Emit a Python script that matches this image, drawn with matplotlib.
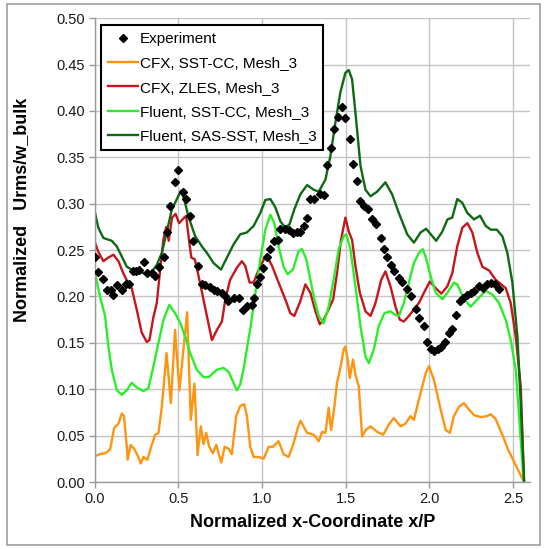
import matplotlib
matplotlib.use("Agg")
import matplotlib.pyplot as plt
from matplotlib.patches import Rectangle

plt.rcParams['font.family'] = ['Liberation Sans', 'DejaVu Sans']

# Experimental data (diamond markers)
exp_x = [0.000, 0.023, 0.049, 0.073, 0.097, 0.113, 0.137, 0.162, 0.188, 0.208,
         0.228, 0.248, 0.268, 0.296, 0.316, 0.342, 0.362, 0.388, 0.412, 0.432,
         0.452, 0.481, 0.501, 0.527, 0.547, 0.571, 0.591, 0.615, 0.641, 0.661,
         0.687, 0.711, 0.734, 0.761, 0.781, 0.800, 0.830, 0.860, 0.886, 0.910,
         0.940, 0.954, 0.970, 0.986, 1.006, 1.030, 1.050, 1.074, 1.093, 1.110,
         1.139, 1.159, 1.185, 1.209, 1.229, 1.253, 1.269, 1.289, 1.313, 1.345,
         1.368, 1.389, 1.413, 1.428, 1.452, 1.478, 1.498, 1.524, 1.544, 1.568,
         1.588, 1.612, 1.632, 1.658, 1.678, 1.708, 1.727, 1.748, 1.771, 1.791,
         1.817, 1.837, 1.867, 1.887, 1.917, 1.937, 1.967, 1.983, 2.007, 2.030,
         2.050, 2.071, 2.090, 2.116, 2.136, 2.156, 2.182, 2.202, 2.226, 2.246,
         2.266, 2.296, 2.322, 2.342, 2.366, 2.390, 2.415]
exp_y = [0.243, 0.226, 0.219, 0.207, 0.207, 0.202, 0.212, 0.207, 0.213, 0.213,
         0.227, 0.227, 0.229, 0.237, 0.225, 0.225, 0.222, 0.232, 0.243, 0.270,
         0.298, 0.323, 0.336, 0.313, 0.305, 0.287, 0.260, 0.233, 0.213, 0.212,
         0.210, 0.207, 0.206, 0.204, 0.201, 0.195, 0.198, 0.198, 0.185, 0.190,
         0.191, 0.198, 0.213, 0.221, 0.231, 0.243, 0.251, 0.260, 0.261, 0.273,
         0.273, 0.272, 0.268, 0.269, 0.270, 0.276, 0.285, 0.305, 0.305, 0.310,
         0.309, 0.342, 0.360, 0.381, 0.393, 0.404, 0.392, 0.370, 0.343, 0.324,
         0.303, 0.297, 0.294, 0.283, 0.278, 0.263, 0.251, 0.243, 0.234, 0.227,
         0.220, 0.216, 0.208, 0.200, 0.186, 0.177, 0.168, 0.151, 0.143, 0.141,
         0.143, 0.146, 0.151, 0.161, 0.165, 0.180, 0.195, 0.198, 0.202, 0.204,
         0.206, 0.211, 0.209, 0.213, 0.214, 0.213, 0.208]

# CFX, SST-CC, Mesh_3
cfx_sst_x = [0.003, 0.033, 0.063, 0.093, 0.117, 0.143, 0.163, 0.176, 0.193, 0.198,
             0.216, 0.236, 0.262, 0.276, 0.292, 0.316, 0.342, 0.362, 0.382, 0.402,
             0.416, 0.430, 0.456, 0.481, 0.507, 0.553, 0.575, 0.597, 0.615, 0.635,
             0.651, 0.667, 0.685, 0.707, 0.727, 0.757, 0.777, 0.800, 0.820, 0.846,
             0.870, 0.894, 0.910, 0.930, 0.950, 0.980, 1.010, 1.040, 1.066, 1.099,
             1.129, 1.159, 1.189, 1.213, 1.230, 1.269, 1.309, 1.339, 1.359, 1.379,
             1.398, 1.413, 1.432, 1.448, 1.468, 1.488, 1.498, 1.512, 1.524, 1.544,
             1.558, 1.578, 1.598, 1.618, 1.648, 1.688, 1.724, 1.757, 1.787, 1.827,
             1.857, 1.887, 1.907, 1.937, 1.957, 1.977, 1.997, 2.027, 2.067, 2.097,
             2.122, 2.146, 2.176, 2.206, 2.236, 2.266, 2.306, 2.342, 2.366, 2.395,
             2.435, 2.469, 2.505, 2.529, 2.565]
cfx_sst_y = [0.028, 0.030, 0.031, 0.035, 0.058, 0.063, 0.074, 0.071, 0.038, 0.024,
             0.040, 0.036, 0.027, 0.020, 0.027, 0.024, 0.040, 0.051, 0.053, 0.081,
             0.110, 0.139, 0.085, 0.164, 0.099, 0.183, 0.067, 0.106, 0.029, 0.060,
             0.041, 0.053, 0.038, 0.031, 0.040, 0.021, 0.038, 0.036, 0.030, 0.071,
             0.082, 0.084, 0.071, 0.038, 0.027, 0.027, 0.025, 0.038, 0.038, 0.044,
             0.030, 0.027, 0.042, 0.058, 0.066, 0.053, 0.051, 0.044, 0.054, 0.053,
             0.080, 0.056, 0.081, 0.107, 0.123, 0.143, 0.146, 0.132, 0.112, 0.132,
             0.116, 0.103, 0.049, 0.056, 0.060, 0.054, 0.051, 0.062, 0.069, 0.060,
             0.063, 0.071, 0.067, 0.089, 0.103, 0.117, 0.125, 0.110, 0.078, 0.056,
             0.053, 0.071, 0.081, 0.085, 0.078, 0.072, 0.070, 0.071, 0.073, 0.068,
             0.051, 0.035, 0.022, 0.013, 0.000]

# CFX, ZLES, Mesh_3
cfx_zles_x = [0.003, 0.023, 0.053, 0.083, 0.113, 0.143, 0.172, 0.202, 0.222, 0.252,
              0.282, 0.312, 0.328, 0.352, 0.372, 0.392, 0.412, 0.428, 0.443, 0.463,
              0.484, 0.505, 0.526, 0.547, 0.567, 0.578, 0.599, 0.620, 0.640, 0.671,
              0.701, 0.731, 0.761, 0.781, 0.810, 0.850, 0.880, 0.900, 0.926, 0.950,
              0.980, 1.026, 1.060, 1.099, 1.139, 1.169, 1.193, 1.229, 1.259, 1.289,
              1.319, 1.345, 1.368, 1.398, 1.425, 1.448, 1.472, 1.498, 1.518, 1.538,
              1.558, 1.584, 1.618, 1.648, 1.678, 1.712, 1.737, 1.767, 1.797, 1.823,
              1.847, 1.877, 1.907, 1.937, 1.967, 2.002, 2.037, 2.071, 2.107, 2.136,
              2.166, 2.196, 2.226, 2.256, 2.286, 2.316, 2.356, 2.395, 2.455, 2.485,
              2.515, 2.545, 2.565]
cfx_zles_y = [0.258, 0.248, 0.238, 0.242, 0.245, 0.238, 0.225, 0.214, 0.209, 0.186,
              0.161, 0.151, 0.153, 0.178, 0.193, 0.229, 0.262, 0.275, 0.260, 0.285,
              0.289, 0.279, 0.283, 0.287, 0.257, 0.242, 0.240, 0.223, 0.206, 0.179,
              0.153, 0.164, 0.173, 0.197, 0.218, 0.231, 0.238, 0.233, 0.215, 0.215,
              0.229, 0.245, 0.233, 0.215, 0.197, 0.182, 0.179, 0.195, 0.213, 0.204,
              0.184, 0.170, 0.175, 0.186, 0.197, 0.225, 0.261, 0.285, 0.270, 0.261,
              0.233, 0.204, 0.184, 0.179, 0.193, 0.218, 0.227, 0.211, 0.189, 0.175,
              0.173, 0.179, 0.186, 0.193, 0.204, 0.216, 0.209, 0.203, 0.211, 0.225,
              0.254, 0.274, 0.279, 0.269, 0.247, 0.232, 0.228, 0.218, 0.209, 0.193,
              0.157, 0.103, 0.000]

# Fluent, SST-CC, Mesh_3
fl_sst_x = [0.003, 0.033, 0.063, 0.083, 0.103, 0.133, 0.163, 0.193, 0.222, 0.252,
            0.292, 0.322, 0.352, 0.382, 0.412, 0.447, 0.481, 0.511, 0.541, 0.571,
            0.611, 0.651, 0.681, 0.731, 0.770, 0.800, 0.830, 0.850, 0.870, 0.890,
            0.930, 0.960, 0.990, 1.020, 1.050, 1.074, 1.099, 1.129, 1.153, 1.185,
            1.219, 1.239, 1.265, 1.289, 1.313, 1.339, 1.368, 1.398, 1.428, 1.458,
            1.488, 1.504, 1.528, 1.558, 1.588, 1.618, 1.638, 1.668, 1.697, 1.731,
            1.767, 1.797, 1.817, 1.847, 1.877, 1.907, 1.937, 1.960, 1.977, 2.007,
            2.037, 2.077, 2.107, 2.146, 2.166, 2.206, 2.246, 2.286, 2.336, 2.376,
            2.415, 2.455, 2.485, 2.515, 2.535, 2.563]
fl_sst_y = [0.225, 0.200, 0.179, 0.146, 0.121, 0.099, 0.094, 0.099, 0.107, 0.102,
            0.098, 0.101, 0.125, 0.150, 0.175, 0.191, 0.182, 0.172, 0.157, 0.139,
            0.121, 0.113, 0.113, 0.121, 0.123, 0.119, 0.107, 0.099, 0.105, 0.122,
            0.165, 0.203, 0.240, 0.272, 0.288, 0.279, 0.254, 0.232, 0.224, 0.229,
            0.249, 0.251, 0.240, 0.218, 0.197, 0.179, 0.171, 0.189, 0.218, 0.251,
            0.265, 0.267, 0.251, 0.211, 0.168, 0.135, 0.128, 0.143, 0.168, 0.182,
            0.184, 0.180, 0.179, 0.193, 0.215, 0.236, 0.247, 0.251, 0.243, 0.222,
            0.204, 0.197, 0.204, 0.215, 0.213, 0.197, 0.189, 0.197, 0.206, 0.202,
            0.193, 0.175, 0.153, 0.121, 0.071, 0.000]

# Fluent, SAS-SST, Mesh_3
fl_sas_x = [0.003, 0.023, 0.053, 0.103, 0.133, 0.163, 0.193, 0.222, 0.252, 0.292,
            0.332, 0.372, 0.402, 0.432, 0.462, 0.492, 0.516, 0.535, 0.561, 0.601,
            0.641, 0.671, 0.711, 0.755, 0.791, 0.830, 0.870, 0.910, 0.950, 0.990,
            1.020, 1.050, 1.080, 1.110, 1.139, 1.165, 1.193, 1.229, 1.269, 1.309,
            1.339, 1.379, 1.408, 1.438, 1.468, 1.498, 1.518, 1.538, 1.558, 1.588,
            1.618, 1.648, 1.688, 1.737, 1.777, 1.817, 1.867, 1.907, 1.947, 1.980,
            2.040, 2.077, 2.107, 2.136, 2.166, 2.196, 2.226, 2.266, 2.302, 2.336,
            2.366, 2.402, 2.435, 2.465, 2.495, 2.525, 2.545, 2.565]
fl_sas_y = [0.290, 0.274, 0.263, 0.260, 0.254, 0.243, 0.232, 0.229, 0.229, 0.225,
            0.224, 0.234, 0.247, 0.270, 0.294, 0.305, 0.314, 0.305, 0.286, 0.265,
            0.254, 0.247, 0.236, 0.229, 0.242, 0.256, 0.267, 0.269, 0.276, 0.290,
            0.304, 0.305, 0.296, 0.281, 0.274, 0.278, 0.294, 0.310, 0.320, 0.315,
            0.313, 0.326, 0.351, 0.387, 0.420, 0.441, 0.444, 0.434, 0.398, 0.341,
            0.315, 0.308, 0.313, 0.323, 0.310, 0.290, 0.267, 0.258, 0.269, 0.273,
            0.260, 0.270, 0.283, 0.285, 0.305, 0.301, 0.290, 0.283, 0.287, 0.276,
            0.272, 0.272, 0.265, 0.247, 0.215, 0.157, 0.085, 0.000]

labels = ["Experiment", "CFX, SST-CC, Mesh_3", "CFX, ZLES, Mesh_3",
          "Fluent, SST-CC, Mesh_3", "Fluent, SAS-SST, Mesh_3"]
colors = ["#000000", "#FF9410", "#C4161C", "#2BEE2B", "#0E6A12"]

x_ticks = [0.0, 0.5, 1.0, 1.5, 2.0, 2.5]
y_ticks = [0.00, 0.05, 0.10, 0.15, 0.20, 0.25, 0.30, 0.35, 0.40, 0.45, 0.50]

fig = plt.figure(figsize=(5.45, 5.49), dpi=100)
ax = fig.add_axes([0.1734, 0.122, 0.799, 0.845])

ax.plot(exp_x, exp_y, linestyle='none', marker='D', markersize=4.0,
        color=colors[0], label=labels[0], zorder=5)
series = [(cfx_sst_x, cfx_sst_y), (cfx_zles_x, cfx_zles_y),
          (fl_sst_x, fl_sst_y), (fl_sas_x, fl_sas_y)]
for (sx, sy), lab, col in zip(series, labels[1:], colors[1:]):
    ax.plot(sx, sy, color=col, lw=1.7, label=lab, solid_joinstyle='round')

ax.set_xlim(0, 2.6)
ax.set_ylim(0, 0.5)
ax.set_xticks(x_ticks)
ax.set_yticks(y_ticks)
ax.set_xticklabels([f"{v:.1f}" for v in x_ticks])
ax.set_yticklabels([f"{v:.2f}" for v in y_ticks])
ax.tick_params(axis='both', labelsize=10.5, labelcolor='#1a1a1a', color='#9a9a9a',
               length=4, width=1, direction='out', pad=3)
ax.grid(True, color='#c4c4c4', lw=1.0)
ax.set_axisbelow(True)
for side in ('top', 'right'):
    ax.spines[side].set_visible(False)
for side in ('left', 'bottom'):
    ax.spines[side].set_color('#9a9a9a')
    ax.spines[side].set_linewidth(1.0)

ax.set_xlabel("Normalized x-Coordinate x/P", fontsize=13, fontweight='bold', labelpad=6)
ax.set_ylabel("Normalized   Urms/w_bulk", fontsize=13, fontweight='bold', labelpad=10)
ax.yaxis.set_label_coords(-0.148, 0.586)

leg = ax.legend(loc='upper left', bbox_to_anchor=(0.0145, 0.985), borderaxespad=0,
                fontsize=11, numpoints=1, handlelength=2.0, handletextpad=0.1,
                labelspacing=0.68, borderpad=0.45, fancybox=False, framealpha=1,
                edgecolor='#000000')
leg.get_frame().set_linewidth(1.5)

fig.patches.append(Rectangle((0.013, 0.007), 0.978, 0.986, transform=fig.transFigure,
                             fill=False, edgecolor='#a0a0a0', lw=1.2))

fig.savefig("out.png", dpi=100)
